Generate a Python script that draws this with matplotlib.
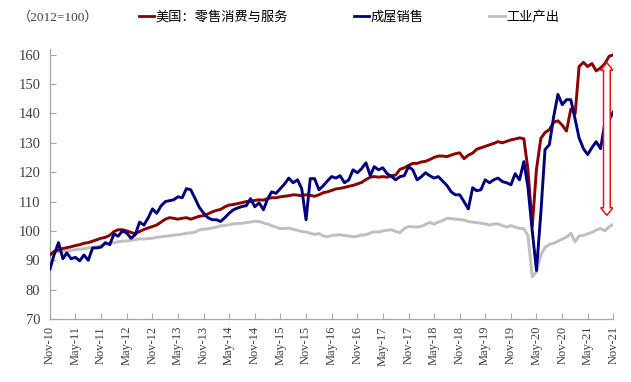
import numpy as np
import pandas as pd
import matplotlib
matplotlib.use("Agg")
import matplotlib.pyplot as plt
import matplotlib.dates as mdates
from matplotlib.patches import Polygon
from matplotlib.lines import Line2D

# monthly, Nov-2010 .. Nov-2021, 2012=100
dates = pd.date_range("2010-11-01", "2021-11-01", freq="MS")

retail = [91.8, 93, 93.5, 94, 94.3, 94.6, 95, 95.3, 95.8, 96, 96.5, 97,
          97.5, 97.8, 98.5, 99.8, 100.4, 100.4, 100, 99.5, 99, 99.8, 100.5, 101,
          101.5, 102, 103, 104, 104.5, 104.3, 104, 104.3, 104.5, 104, 104.5, 105,
          105.2, 105.8, 106.5, 107, 107.3, 108.2, 108.8, 109, 109.3, 109.6, 110, 110,
          110.4, 110.6, 110.5, 111, 111.3, 111.3, 111.6, 111.8, 112, 112.3, 112.2, 112,
          112.3, 112.1, 111.8, 112.3, 113, 113.3, 113.8, 114.3, 114.5, 114.8, 115.2, 115.5,
          116, 116.5, 117.5, 118.3, 118.5, 118.3, 118.5, 118.3, 118.8, 119, 121, 121.5,
          122.3, 123, 123, 123.5, 123.7, 124.3, 125, 125.5, 125.5, 125.3, 125.8, 126.3,
          126.6, 124.6, 125.8, 126.5, 127.8, 128.3, 128.8, 129.3, 129.8, 130.4, 130, 130.5,
          131, 131.3, 131.7, 131.4, 121, 101.5, 121, 131.5, 133.5, 134.5, 137, 137.5,
          136, 134, 141.5, 140, 156, 157.4, 156, 157, 154.5, 155.5, 157, 159.5,
          160]

home_sales = [87, 92, 96, 90.5, 92.5, 90.5, 91, 89.8, 91.8, 90, 94.2, 94.2,
              94.5, 96, 95.3, 99, 98.2, 100, 99.3, 97.5, 98.7, 103, 102, 104.4,
              107.5, 106, 108.5, 110, 110.3, 110.6, 111.6, 111.3, 114.4, 114, 111, 108,
              106, 104.5, 103.8, 103.8, 103.2, 104.5, 106, 107.2, 107.8, 108.3, 108.6, 111,
              108.2, 109.6, 107.2, 111, 113.3, 112.8, 114.4, 116, 118, 116.4, 117.4, 114.4,
              103.8, 117.8, 117.8, 114, 115.3, 117, 118.5, 118, 118.8, 116.4, 117.4, 120.8,
              119.8, 121.2, 123.2, 118.8, 121.9, 120.8, 121.5, 119.5, 118.6, 117.4, 118.5, 118.8,
              121.9, 120.8, 117.4, 118.5, 119.8, 118.8, 118, 118.5, 117, 115.5, 113.3, 112.3,
              112.3, 110, 107.5, 114.7, 113.7, 114, 117.4, 116.4, 117.4, 118, 116.8, 116.4,
              115.7, 119.5, 117.4, 123.6, 115, 100, 86.5, 106, 127.7, 129.4, 139, 146.5,
              143, 144.7, 144.7, 138, 131.7, 128, 126, 128.4, 130.4, 128, 136.9, 137.8,
              140.6]

industry = [92.5, 92.7, 92.9, 93.1, 93.2, 93.4, 93.6, 93.8, 93.9, 94.2, 94.4, 94.6,
            95, 95.5, 95.8, 96, 96.3, 96.5, 96.6, 96.8, 97, 97.3, 97.2, 97.4,
            97.5, 97.8, 98, 98.2, 98.3, 98.6, 98.7, 98.9, 99.2, 99.3, 99.6, 100.3,
            100.6, 100.7, 101, 101.3, 101.7, 101.9, 102.1, 102.4, 102.5, 102.6, 102.8, 103,
            103.3, 103.2, 102.7, 102.3, 101.8, 101.3, 100.8, 100.8, 101, 100.6, 100.2, 99.8,
            99.6, 99.2, 98.8, 99.1, 98.3, 98, 98.4, 98.6, 98.7, 98.4, 98.3, 98,
            98.2, 98.6, 98.7, 99.3, 99.7, 99.6, 100, 100.2, 100.4, 99.8, 99.4, 100.8,
            101.5, 101.4, 101.3, 101.6, 102.2, 102.9, 102.3, 103, 103.5, 104.3, 104.2, 104,
            103.9, 103.7, 103.2, 103, 102.8, 102.6, 102.4, 102, 102.3, 102.4, 101.8, 101.3,
            101.8, 101.3, 100.9, 100.7, 98.5, 84.3, 86, 91.8, 94.4, 95.4, 95.8, 96.5,
            97.2, 97.9, 99.2, 96.3, 98.3, 98.5, 99, 99.5, 100.3, 100.8, 100, 101.4,
            102.3]

names = ["美国：零售消费与服务", "成屋销售", "工业产出"]
colors = ["#8B0000", "#00007F", "#BFBFBF"]
y_ticks = list(range(70, 161, 10))
tick_dates = dates[::6]
tick_labels = [d.strftime("%b-%y") for d in tick_dates]

# gap arrow (annotation)
arrow_date = pd.Timestamp("2021-09-15")
arrow_top = 157.3
arrow_bottom = 105.3

fig = plt.figure(figsize=(6.31, 3.82), dpi=100)
ax = fig.add_axes([0.0792, 0.165, 0.893, 0.707])

ax.plot(dates, industry, color=colors[2], lw=2.1, zorder=2)
ax.plot(dates, retail, color=colors[0], lw=2.1, zorder=3)
ax.plot(dates, home_sales, color=colors[1], lw=2.1, zorder=4)

# hollow double arrow
xc = mdates.date2num(arrow_date)
sw, hw, hl = 24, 44, 2.6
pts = [(xc, arrow_top), (xc + hw, arrow_top - hl), (xc + sw, arrow_top - hl),
       (xc + sw, arrow_bottom + hl), (xc + hw, arrow_bottom + hl), (xc, arrow_bottom),
       (xc - hw, arrow_bottom + hl), (xc - sw, arrow_bottom + hl),
       (xc - sw, arrow_top - hl), (xc - hw, arrow_top - hl)]
ax.add_patch(Polygon(pts, closed=True, facecolor="white", edgecolor="#E8141B",
                     lw=1.1, zorder=5))

ax.set_xlim(dates[0], dates[-1])
ax.set_ylim(70, 162)
ax.set_yticks(y_ticks)
ax.set_xticks(tick_dates)
ax.set_xticklabels(tick_labels, rotation=90, fontsize=9, family="Liberation Serif")
for lab in ax.get_yticklabels():
    lab.set_family("Liberation Serif")
    lab.set_fontsize(10.5)

for s in ["top", "right"]:
    ax.spines[s].set_visible(False)
for s in ["left", "bottom"]:
    ax.spines[s].set_color("#A6A6A6")
    ax.spines[s].set_linewidth(0.9)
ax.tick_params(direction="in", length=4, color="#A6A6A6", labelcolor="#404040")
ax.tick_params(axis="y", pad=7)
ax.tick_params(axis="x", pad=5)

handles = [Line2D([], [], color=c, lw=2.0) for c in colors]
fig.legend(handles, names, loc="center left", bbox_to_anchor=(139 / 631, 1 - 17 / 382),
           ncol=3, frameon=False, handlelength=1.15, handletextpad=0.1,
           columnspacing=5.0, borderpad=0, borderaxespad=0,
           prop={"family": "Noto Sans CJK SC", "size": 9.5})
fig.text(18 / 631, 1 - 17 / 382, "（2012=100）", va="center", ha="left", fontsize=9.5,
         color="#404040", family=["Liberation Serif", "Noto Sans CJK SC"])

fig.savefig("out.png", dpi=100)
